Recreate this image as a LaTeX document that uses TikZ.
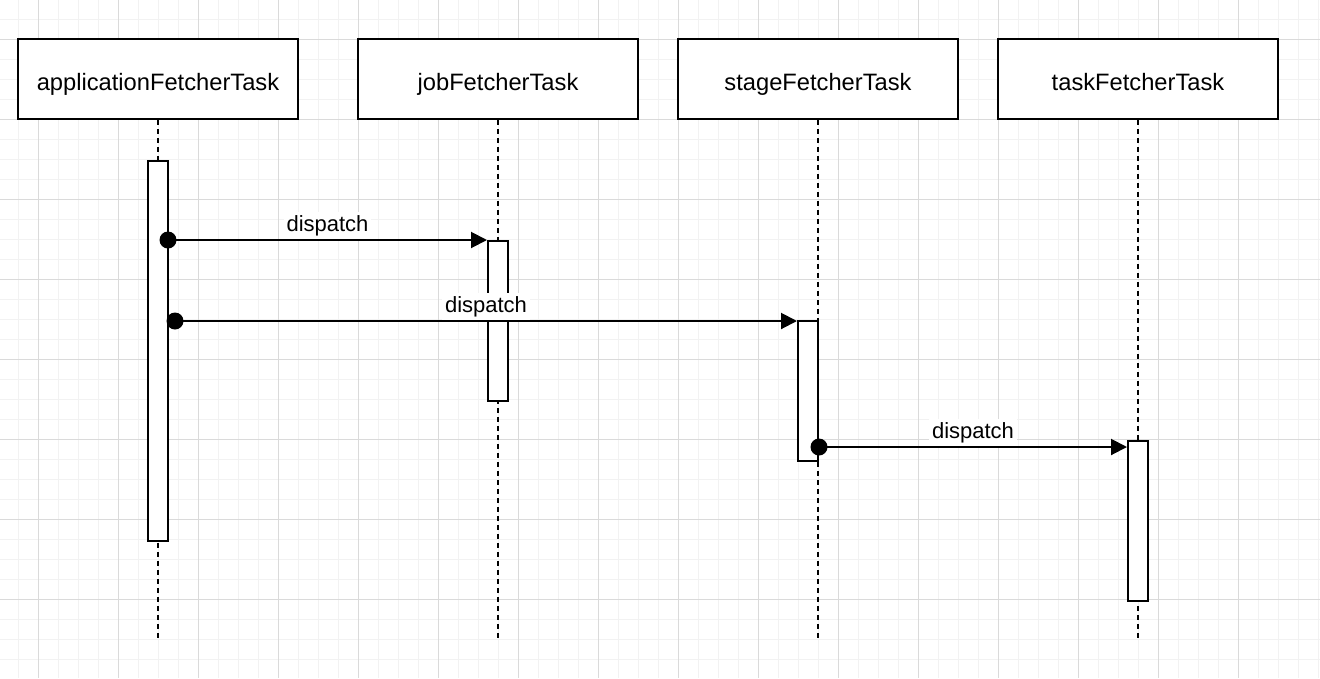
\documentclass[tikz,border=0pt]{standalone}
\usepackage{fontspec}
\setmainfont{Liberation Sans}
\usetikzlibrary{positioning}
\usetikzlibrary{calc}
\usetikzlibrary{arrows.meta}
\definecolor{minorgrid}{RGB}{242,242,242}
\definecolor{majorgrid}{RGB}{218,218,218}

\begin{document}
\begin{tikzpicture}[
			x=1pt, y=-1pt,
			node distance=320pt,
			minorline/.style={draw=minorgrid, line width=1pt},
			majorline/.style={draw=majorgrid, line width=1pt},
			head/.style={rectangle, minimum width=280pt, minimum height=80pt, text height=24pt, text depth=0.6pt, text centered, draw=black, fill=white, line width=2pt, font=\fontsize{23.7}{28}\selectfont},
			lifeline/.style={line width=2pt, dash pattern=on 5pt off 4pt},
			bar/.style={rectangle, minimum width=20pt, inner sep=0pt, draw=black, fill=white, line width=2pt},
			dot/.style={circle, fill=black, minimum size=17pt, inner sep=0pt},
			msg/.style={line width=2pt, arrows=-{Triangle[length=16pt,width=16pt]}},
			lbl/.style={fill=white, inner sep=3pt, anchor=base, yshift=9pt, font=\fontsize{22}{26}\selectfont},
			]
			
			\useasboundingbox (0,0) rectangle (1320,678);
			
			% grid
			\foreach \gx in {18,38,...,1318} \draw[minorline] (\gx,0) -- (\gx,678);
			\foreach \gy in {19,39,...,659} \draw[minorline] (0,\gy) -- (1320,\gy);
			\foreach \gx in {38,118,...,1278} \draw[majorline] (\gx,0) -- (\gx,678);
			\foreach \gy in {39,119,...,599} \draw[majorline] (0,\gy) -- (1320,\gy);
			
			% lifelines
			\node[head]       (app) at (158,79)                  {applicationFetcherTask};
			\node[head]       (job)   [right of=app, xshift=20pt] {jobFetcherTask};
			\node[head]       (stage) [right of=job]             {stageFetcherTask};
			\node[head]       (task)  [right of=stage]           {taskFetcherTask};
			
			\coordinate (app_end)   at ($(app.south)+(0,520)$);
			\coordinate (job_end)   at ($(job.south)+(0,520)$);
			\coordinate (stage_end) at ($(stage.south)+(0,520)$);
			\coordinate (task_end)  at ($(task.south)+(0,520)$);
			
			\draw[lifeline] (app)   -- (app_end);
			\draw[lifeline] (job)   -- (job_end);
			\draw[lifeline] (stage) -- (stage_end);
			\draw[lifeline] (task)  -- (task_end);
			
			% activations
			\node[bar, minimum height=380pt] (app_bar)   [below=40pt of app]                {};
			\node[bar, minimum height=160pt] (job_bar)   [below=120pt of job]               {};
			\node[bar, minimum height=140pt] (stage_bar) [below=200pt of stage, xshift=-10pt] {};
			\node[bar, minimum height=160pt] (task_bar)  [below=320pt of task]              {};
			
			% messages
			\node[dot] (d1) at (168,240) {};
			\node[dot] (d2) at (175,321) {};
			\node[dot] (d3) at (819,447) {};
			
			\draw[msg] (d1.center) -- node[lbl] {dispatch} (d1 -| job_bar.west);
			\draw[msg] (d2.center) -- node[lbl] {dispatch} (d2 -| stage_bar.west);
			\draw[msg] (d3.center) -- node[lbl] {dispatch} (d3 -| task_bar.west);
			
\end{tikzpicture}
\end{document}
